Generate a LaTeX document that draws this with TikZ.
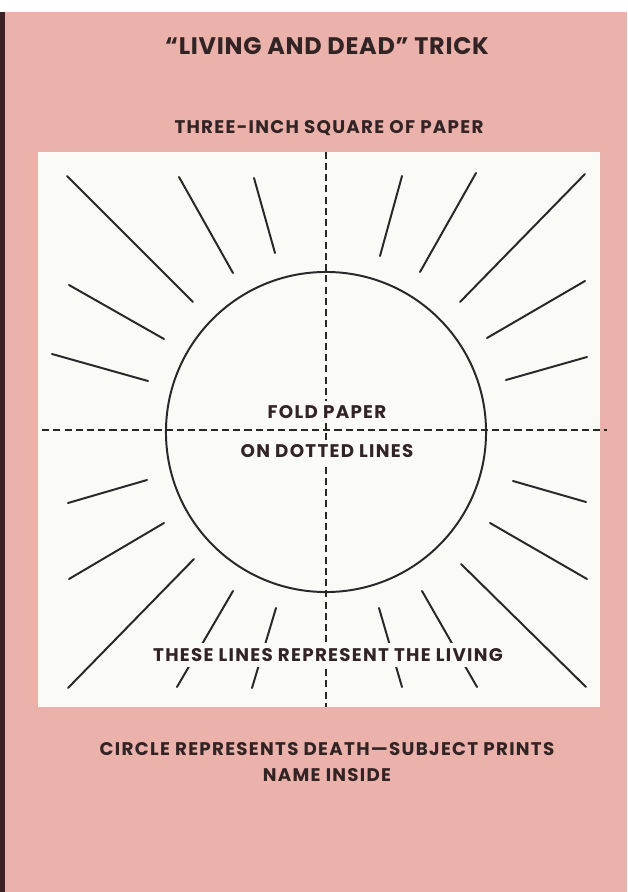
\documentclass[tikz,border=0pt]{standalone}
\usepackage{fontspec}
\setmainfont{Poppins}
\newfontfamily\trickfont[LetterSpace=7]{Poppins}
\newfontfamily\tricktitlefont[LetterSpace=3]{Poppins}
\usetikzlibrary{positioning}
\definecolor{trickpink}{RGB}{235,177,171}
\definecolor{trickpaper}{RGB}{250,250,247}
\definecolor{trickink}{RGB}{50,36,36}
\definecolor{trickline}{RGB}{40,40,40}
\definecolor{trickedge}{RGB}{58,34,34}

\begin{document}
\begin{tikzpicture}[
  x=0.025cm, y=-0.025cm,
  caption/.style={text=trickink, font=\trickfont\bfseries\fontsize{13}{15}\selectfont, inner sep=1pt},
  ray/.style={draw=trickline, line width=1.4pt, line cap=round},
  fold/.style={draw=trickline, line width=0.8pt, dash pattern=on 5pt off 3pt},
  sheet/.style={fill=trickpaper, inner sep=0pt, minimum width=14.05cm, minimum height=13.875cm}
]
\useasboundingbox (0,0) rectangle (627,892);
\fill[trickpink] (0,0) rectangle (627,892);
\fill[white] (0,0) rectangle (627,12);
\fill[trickedge] (0,12) rectangle (5,892);

\node[caption, font=\tricktitlefont\bfseries\fontsize{17}{19}\selectfont] (title) at (327,46) {“LIVING AND DEAD” TRICK};
\node[caption] (paper) at (329,128) {THREE-INCH SQUARE OF PAPER};

\node[sheet] (square) at (319,429.5) {};
\node[circle, draw=trickline, line width=1.4pt, inner sep=0pt, minimum size=8cm] (death) at (326,432) {};

% fold lines
\coordinate (foldleft) at (42,430);
\coordinate (foldright) at (607,430);
\draw[fold] (death.center |- square.north) -- (death.center |- square.south);
\draw[fold] (foldleft) -- (foldright);

% the living, upper half
\draw[ray] (67,176) -- (193,302);
\draw[ray] (179,177) -- (233,273);
\draw[ray] (254,178) -- (275,253);
\draw[ray] (69,285) -- (164,339);
\draw[ray] (52,354) -- (148,381);
\draw[ray] (402,176) -- (380,256);
\draw[ray] (476,173) -- (420,272);
\draw[ray] (585,174) -- (460,302);
\draw[ray] (585,281) -- (487,338);
\draw[ray] (587,357) -- (506,380);

% the living, lower half
\draw[ray] (147,480) -- (68,503);
\draw[ray] (164,523) -- (69,579);
\draw[ray] (194,559) -- (68,688);
\draw[ray] (233,591) -- (177,687);
\draw[ray] (276,608) -- (252,688);
\draw[ray] (513,481) -- (586,502);
\draw[ray] (490,523) -- (587,579);
\draw[ray] (461,564) -- (586,687);
\draw[ray] (422,591) -- (477,687);
\draw[ray] (379,608) -- (402,687);

\node[caption, fill=trickpaper, inner ysep=3pt] (fold1) at (327,412) {FOLD PAPER};
\node[caption, fill=trickpaper, inner ysep=3pt, below=12pt of fold1] (fold2) {ON DOTTED LINES};
\node[caption, fill=trickpaper, inner ysep=4pt] (living) at (328,655) {THESE LINES REPRESENT THE LIVING};

\node[caption] (circlenote) at (327,749) {CIRCLE REPRESENTS DEATH—SUBJECT PRINTS};
\node[caption, below=7pt of circlenote] (namenote) {NAME INSIDE};
\end{tikzpicture}
\end{document}
